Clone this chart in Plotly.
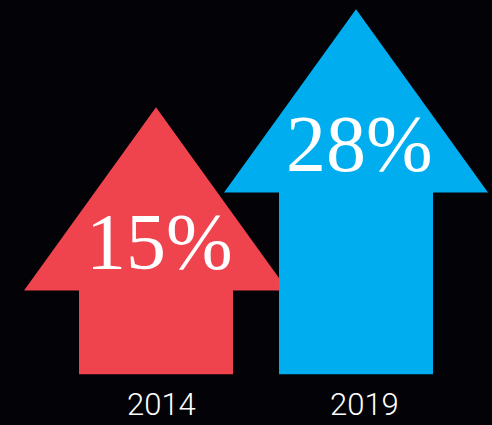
import plotly.graph_objects as go

years = ["2014", "2019"]
values = [15, 28]
labels = ["15%", "28%"]
colors = ["#EF434E", "#00AEEF"]

# arrow styling (in axis units)
BASE = -20.4          # bottom of shaft
HEAD_H = 24.3         # height of arrow head
HEAD_HALF = 0.66      # half width of head
SHAFT_HALF = 0.385    # half width of shaft
TEXT_DROP = 17.9

fig = go.Figure()
for i, (yr, v, lab, c) in enumerate(zip(years, values, labels, colors)):
    hb = v - HEAD_H
    xs = [i - SHAFT_HALF, i - SHAFT_HALF, i - HEAD_HALF, i, i + HEAD_HALF,
          i + SHAFT_HALF, i + SHAFT_HALF, i - SHAFT_HALF]
    ys = [BASE, hb, hb, v, hb, hb, BASE, BASE]
    fig.add_trace(go.Scatter(x=xs, y=ys, mode="lines", fill="toself",
                             fillcolor=c, line=dict(width=0, color=c),
                             hoverinfo="skip", showlegend=False))
    fig.add_annotation(x=i, y=v - TEXT_DROP, text=lab, showarrow=False,
                       xanchor="center", yanchor="middle", xshift=3,
                       font=dict(family="Liberation Serif", size=80, color="white"))
    fig.add_annotation(x=i, y=0, yref="paper", text=yr, showarrow=False,
                       xanchor="center", yanchor="bottom", xshift=5 + 3 * i, yshift=0,
                       font=dict(family="Roboto", size=31, color="white", weight=300))

fig.update_layout(
    width=492, height=425,
    margin=dict(l=0, r=0, t=0, b=0),
    paper_bgcolor="#030207", plot_bgcolor="rgba(0,0,0,0)",
    xaxis=dict(range=[-0.78, 1.68], visible=False, fixedrange=True),
    yaxis=dict(range=[-27.13, 29.23], visible=False, fixedrange=True),
)
fig.write_html("out.html", config={"displayModeBar": False},
               post_script="document.body.style.margin='0';document.body.style.background='#000';")
